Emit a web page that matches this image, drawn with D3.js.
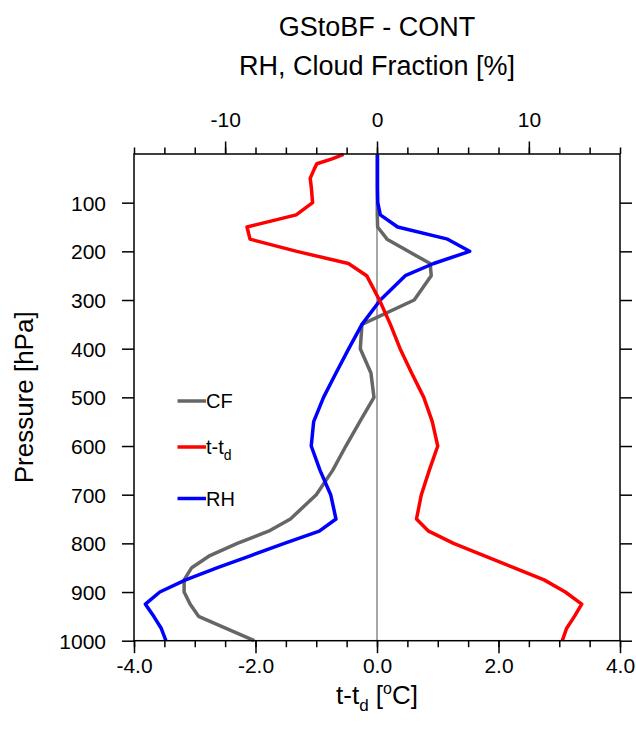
<!DOCTYPE html>
<html>
<head>
<meta charset="utf-8">
<style>
    body { margin: 0; background: #fff; }
    svg { font-family: 'Liberation Sans', Arial, Helvetica, sans-serif; }
</style>
</head>
<body>
<svg width="636" height="730"></svg>
<script src="https://d3js.org/d3.v7.min.js"></script>
<script>
    // pressure levels (hPa) and the three profiles
    let levels = [1, 10, 20, 30, 50, 70, 100, 125, 150, 175, 200, 225, 250, 300, 350, 400, 450,
        500, 550, 600, 650, 700, 750, 775, 800, 825, 850, 875, 900, 925, 950, 975, 1000]

    // t - td [deg C], bottom axis
    let ttd = [-0.55, -0.74, -0.99, -1.03, -1.10, -1.08, -1.06, -1.33, -2.14, -2.09, -1.32, -0.47, -0.17,
        0.04, 0.22, 0.38, 0.57, 0.77, 0.91, 1.00, 0.86, 0.73, 0.65, 0.85, 1.26, 1.76, 2.25, 2.75,
        3.10, 3.37, 3.25, 3.12, 3.05]

    // RH [%], top axis
    let rh = [0.03, 0.03, 0.03, 0.03, 0.03, 0.03, 0.05, 0.22, 1.36, 4.65, 6.1, 3.73, 1.86,
        0.22, -0.99, -1.86, -2.7, -3.52, -4.17, -4.33, -3.75, -3.05, -2.7, -3.8, -6.1, -8.3, -10.5, -12.6,
        -14.3, -15.25, -14.7, -14.2, -13.9]

    // cloud fraction [%], top axis
    let cf = [0.02, 0.02, 0.02, 0.02, 0.02, 0.02, 0.02, 0.02, 0.04, 0.66, 2.06, 3.5, 3.57,
        2.45, -0.99, -1.1, -0.4, -0.2, -1.13, -2.05, -2.92, -4.0, -5.7, -7.14, -9.2, -11.0, -12.2, -12.7,
        -12.7, -12.3, -11.75, -9.9, -8.08]

    let pTicks = [100, 200, 300, 400, 500, 600, 700, 800, 900, 1000]
    let bottomMajor = [-4, -2, 0, 2, 4]
    let topMajor = [-10, 0, 10]

    let x0 = 134, x1 = 620, y0 = 154, y1 = 640.7

    let svg = d3.select("svg")

    let xB = d3.scaleLinear().domain([-4, 4]).range([x0, x1])
    let xT = d3.scaleLinear().domain([-16, 16]).range([x0, x1])
    let y = d3.scaleLinear().domain([0, 1000]).range([y0, y1])

    // plain hyphen for negatives, like the original
    let fmt1 = d => d.toFixed(1)
    let fmt0 = d => String(d)

    // zero line
    svg.append("line")
        .attr("x1", xB(0)).attr("x2", xB(0))
        .attr("y1", y0).attr("y2", y1)
        .style("stroke", "#777")
        .style("stroke-width", 1.3)

    let line = (vals, sx) => d3.line()
        .x((d, i) => sx(vals[i]))
        .y(d => y(d))(levels)

    let series = [
        { vals: cf, sx: xT, color: "#666666" },
        { vals: rh, sx: xT, color: "#0000ff" },
        { vals: ttd, sx: xB, color: "#ff0000" }
    ]

    series.forEach(s => {
        svg.append("path")
            .attr("d", line(s.vals, s.sx))
            .style("fill", "none")
            .style("stroke", s.color)
            .style("stroke-width", 3.5)
            .style("stroke-linejoin", "round")
    })

    // axes
    function styleAxis(g) {
        g.select(".domain").remove()
        g.selectAll(".tick line").style("stroke", "#000").style("stroke-width", 1.5)
        g.selectAll(".tick text").style("font-size", "21px").style("fill", "#000")
            .style("font-family", "'Liberation Sans', Arial, sans-serif")
    }

    svg.append("g")
        .attr("transform", `translate(${x0},0)`)
        .call(d3.axisLeft(y).tickValues(pTicks).tickSize(12).tickPadding(16).tickFormat(fmt0).tickSizeOuter(0))
        .call(styleAxis)
        .selectAll(".tick text").attr("dy", "0.36em")

    svg.append("g")
        .attr("transform", `translate(${x1},0)`)
        .call(d3.axisRight(y).tickValues(pTicks).tickSize(12).tickFormat("").tickSizeOuter(0))
        .call(styleAxis)

    svg.append("g")
        .attr("transform", `translate(0,${y1})`)
        .call(d3.axisBottom(xB).tickValues(d3.range(-4, 4.01, 0.5)).tickSize(6.5).tickFormat("").tickSizeOuter(0))
        .call(styleAxis)
    svg.append("g")
        .attr("transform", `translate(0,${y1})`)
        .call(d3.axisBottom(xB).tickValues(bottomMajor).tickSize(12.5).tickPadding(5).tickFormat(fmt1).tickSizeOuter(0))
        .call(styleAxis)

    svg.append("g")
        .attr("transform", `translate(0,${y0})`)
        .call(d3.axisTop(xT).tickValues(d3.range(-16, 16.01, 2)).tickSize(6.5).tickFormat("").tickSizeOuter(0))
        .call(styleAxis)
    svg.append("g")
        .attr("transform", `translate(0,${y0})`)
        .call(d3.axisTop(xT).tickValues(topMajor).tickSize(12.5).tickPadding(15).tickFormat(fmt0).tickSizeOuter(0))
        .call(styleAxis)

    // frame
    svg.append("rect")
        .attr("x", x0).attr("y", y0)
        .attr("width", x1 - x0).attr("height", y1 - y0)
        .style("fill", "none")
        .style("stroke", "#000")
        .style("stroke-width", 1.5)

    // titles
    let cx = (x0 + x1) / 2
    svg.append("text").attr("x", cx).attr("y", 36).attr("text-anchor", "middle")
        .style("font-size", "27px").text("GStoBF - CONT")
    svg.append("text").attr("x", cx).attr("y", 75).attr("text-anchor", "middle")
        .style("font-size", "27px").text("RH, Cloud Fraction [%]")

    svg.append("text")
        .attr("transform", `translate(33,${(y0 + y1) / 2}) rotate(-90)`)
        .attr("text-anchor", "middle")
        .style("font-size", "26px")
        .text("Pressure [hPa]")

    let xt = svg.append("text").attr("x", cx).attr("y", 704).attr("text-anchor", "middle")
        .style("font-size", "26px")
    xt.append("tspan").text("t-t")
    xt.append("tspan").attr("dy", 7).style("font-size", "17px").text("d")
    xt.append("tspan").attr("dy", -7).text(" [")
    xt.append("tspan").attr("dy", -10).style("font-size", "16px").text("o")
    xt.append("tspan").attr("dy", 10).text("C]")

    // legend
    let legendItems = [
        { label: "CF", color: "#666666", y: 401 },
        { label: "t-t", sub: "d", color: "#ff0000", y: 447 },
        { label: "RH", color: "#0000ff", y: 498.5 }
    ]
    legendItems.forEach(d => {
        svg.append("line")
            .attr("x1", 177.5).attr("x2", 206)
            .attr("y1", d.y).attr("y2", d.y)
            .style("stroke", d.color)
            .style("stroke-width", 3.5)
        let t = svg.append("text").attr("x", 206).attr("y", d.y + 7)
            .style("font-size", "20px").text(d.label)
        if (d.sub) {
            t.append("tspan").attr("dy", 6).style("font-size", "14px").text(d.sub)
        }
    })
</script>
</body>
</html>
